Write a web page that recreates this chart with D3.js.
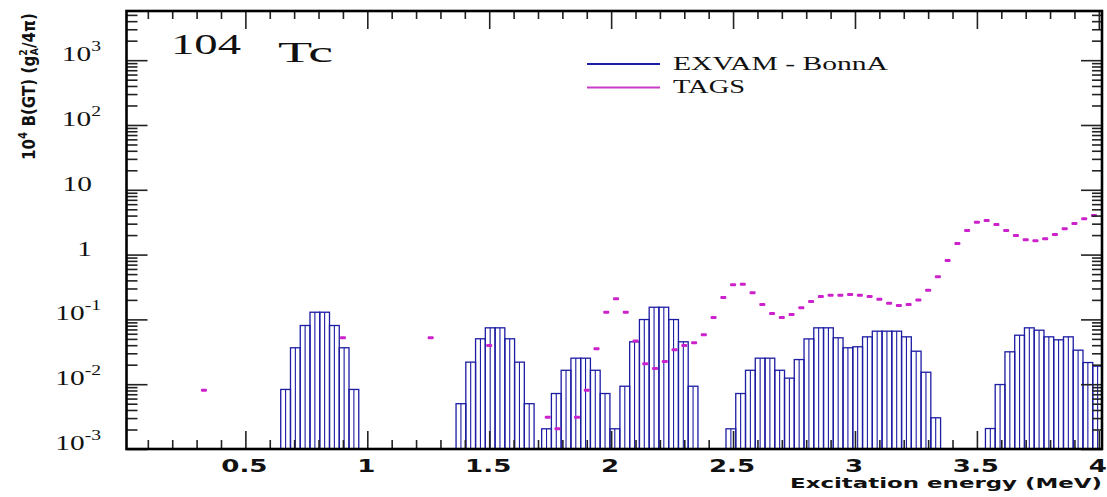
<!DOCTYPE html>
<html lang="en">
<head>
<meta charset="UTF-8">
<title>104Tc B(GT) - EXVAM vs TAGS</title>
<style>
  body { margin: 0; background: #fff; }
  svg { display: block; }
</style>
</head>
<body>
<svg width="1107" height="497"></svg>
<script src="https://d3js.org/d3.v7.min.js"></script>
<script>
// EXVAM - BonnA histogram: groups of 0.04 MeV bins (start energy of each group)
const binWidth = 0.04;
const exvamStart = [0.645, 1.364, 1.715, 2.036, 2.471, 3.535];
const exvamValues = [
  [0.0083, 0.0365, 0.0805, 0.129, 0.129, 0.0805, 0.0365, 0.0083],
  [0.0050, 0.0219, 0.0502, 0.0741, 0.0741, 0.0502, 0.0219, 0.0050],
  [0.00205, 0.00718, 0.0164, 0.0252, 0.0252, 0.0164, 0.00718, 0.00205],
  [0.0093, 0.0451, 0.0995, 0.154, 0.154, 0.0995, 0.0451, 0.0093],
  [0.00205, 0.00718, 0.0164, 0.0252, 0.0252, 0.0164, 0.0124, 0.0240, 0.0500, 0.0741, 0.0741,
   0.0520, 0.0365, 0.0378, 0.0538, 0.0658, 0.0658, 0.0658, 0.0538, 0.0323, 0.0153, 0.00303],
  [0.00207, 0.00988, 0.0316, 0.0570, 0.0741, 0.0681, 0.0538, 0.0484, 0.0538, 0.0335, 0.0216, 0.0190]
];

// TAGS points
const tagsEnergy = [0.33, 0.90, 1.26, 1.50, 1.74, 1.78, 1.86, 1.90, 1.94, 1.98,
  2.02, 2.06, 2.10, 2.14, 2.18, 2.22, 2.26, 2.30, 2.34, 2.38, 2.42,
  2.46, 2.50, 2.54, 2.58, 2.62, 2.66, 2.70, 2.74, 2.78, 2.82,
  2.86, 2.90, 2.94, 2.98, 3.02, 3.06, 3.10, 3.14, 3.18, 3.22,
  3.26, 3.30, 3.34, 3.38, 3.42, 3.46, 3.50, 3.54, 3.58, 3.62,
  3.66, 3.70, 3.74, 3.78, 3.82, 3.86, 3.90, 3.94, 3.98];
const tagsValue = [0.0081, 0.052, 0.052, 0.0395, 0.0031, 0.00205, 0.0031, 0.0081, 0.0352, 0.129,
  0.208, 0.129, 0.0464, 0.0207, 0.0175, 0.0224, 0.034, 0.0395, 0.0436, 0.0578, 0.107,
  0.218, 0.342, 0.350, 0.257, 0.170, 0.123, 0.107, 0.119, 0.151, 0.189,
  0.225, 0.236, 0.236, 0.242, 0.236, 0.225, 0.205, 0.178, 0.164, 0.170,
  0.200, 0.282, 0.454, 0.811, 1.48, 2.35, 3.16, 3.36, 2.92, 2.35,
  1.97, 1.69, 1.63, 1.75, 2.04, 2.50, 3.02, 3.57, 4.01];

const xTickValues = [0.5, 1, 1.5, 2, 2.5, 3, 3.5, 4];
const xTickLabels = ["0.5", "1", "1.5", "2", "2.5", "3", "3.5", "4"];
const yTickValues = [1e-3, 1e-2, 1e-1, 1, 10, 100, 1000];
const yTickBase = ["10", "10", "10", "1", "10", "10", "10"];
const yTickExp = ["-3", "-2", "-1", "", "", "2", "3"];

const seriesNames = ["EXVAM - BonnA", "TAGS"];
const seriesColors = ["#1c1ca4", "#c83cc8"];

const plotLeft = 126.5, plotRight = 1102, plotTop = 11, plotBottom = 449;

const svg = d3.select("svg");

const x = d3.scaleLinear().domain([0.0125, 4.013]).range([plotLeft, plotRight]);
const y = d3.scaleLog().domain([1e-3, 5740]).range([plotBottom, plotTop]);

svg.append("clipPath").attr("id", "plot")
  .append("rect")
  .attr("x", plotLeft).attr("y", plotTop)
  .attr("width", plotRight - plotLeft).attr("height", plotBottom - plotTop);

// histogram bins
const bins = [];
exvamStart.forEach((s, i) => {
  exvamValues[i].forEach((v, j) => {
    bins.push({ x0: s + j * binWidth, x1: s + (j + 1) * binWidth, v: v });
  });
});

const hist = svg.append("g").attr("clip-path", "url(#plot)");

hist.selectAll("rect")
  .data(bins)
  .enter().append("rect")
  .attr("x", d => x(d.x0))
  .attr("width", d => x(d.x1) - x(d.x0))
  .attr("y", d => y(d.v))
  .attr("height", d => plotBottom - y(d.v))
  .attr("fill", "none")
  .attr("stroke", seriesColors[0])
  .attr("stroke-width", 1.3);

hist.selectAll("line.mid")
  .data(bins)
  .enter().append("line")
  .attr("class", "mid")
  .attr("x1", d => x((d.x0 + d.x1) / 2))
  .attr("x2", d => x((d.x0 + d.x1) / 2))
  .attr("y1", plotBottom)
  .attr("y2", d => y(d.v))
  .attr("stroke", seriesColors[0])
  .attr("stroke-width", 1.1);

// TAGS markers
const tags = tagsEnergy.map((e, i) => ({ e: e, v: tagsValue[i] }));
svg.append("g").attr("clip-path", "url(#plot)")
  .selectAll("rect")
  .data(tags)
  .enter().append("rect")
  .attr("x", d => x(d.e) - 3)
  .attr("y", d => y(d.v) - 1.5)
  .attr("width", 6)
  .attr("height", 3)
  .attr("rx", 1)
  .attr("fill", "#cc22cc");

// ticks on all four sides, pointing inward
const xMinor = d3.range(1, 41).map(i => i / 10).filter(v => Math.round(v * 10) % 5 !== 0);
const yMinor = [];
for (let d = -3; d <= 3; d++) {
  for (let m = 2; m <= 9; m++) {
    const v = m * Math.pow(10, d);
    if (v < 5740) yMinor.push(v);
  }
}

function tickGroup(axis, transform) {
  const g = svg.append("g").attr("transform", transform).call(axis);
  g.select(".domain").remove();
  g.selectAll("text").remove();
  g.selectAll("line").attr("stroke", "#222").attr("stroke-width", 1.6);
}

tickGroup(d3.axisBottom(x).tickValues(xTickValues).tickSize(-18), `translate(0,${plotBottom})`);
tickGroup(d3.axisBottom(x).tickValues(xMinor).tickSize(-9), `translate(0,${plotBottom})`);
tickGroup(d3.axisTop(x).tickValues(xTickValues).tickSize(-18), `translate(0,${plotTop})`);
tickGroup(d3.axisTop(x).tickValues(xMinor).tickSize(-8), `translate(0,${plotTop})`);
tickGroup(d3.axisLeft(y).tickValues(yTickValues).tickSize(-21), `translate(${plotLeft},0)`);
tickGroup(d3.axisLeft(y).tickValues(yMinor).tickSize(-11), `translate(${plotLeft},0)`);
tickGroup(d3.axisRight(y).tickValues(yTickValues).tickSize(-21), `translate(${plotRight},0)`);
tickGroup(d3.axisRight(y).tickValues(yMinor).tickSize(-10), `translate(${plotRight},0)`);

// frame
svg.append("rect")
  .attr("x", plotLeft).attr("y", plotTop)
  .attr("width", plotRight - plotLeft).attr("height", plotBottom - plotTop)
  .attr("fill", "none")
  .attr("stroke", "#000")
  .attr("stroke-width", 2.6);

// x tick labels
svg.append("g").selectAll("text")
  .data(xTickValues)
  .enter().append("text")
  .attr("transform", d => `translate(${x(d) - 1},${472}) scale(1.45,1)`)
  .attr("text-anchor", "middle")
  .attr("font-family", "DejaVu Sans")
  .attr("font-weight", "bold")
  .attr("font-size", 18)
  .attr("fill", "#111")
  .text((d, i) => xTickLabels[i]);

svg.append("text")
  .attr("x", 790).attr("y", 488)
  .attr("textLength", 312)
  .attr("lengthAdjust", "spacingAndGlyphs")
  .attr("font-family", "DejaVu Sans")
  .attr("font-weight", "bold")
  .attr("font-size", 14)
  .attr("fill", "#111")
  .text("Excitation energy (MeV)");

// y tick labels
const yLab = svg.append("g").selectAll("text")
  .data(yTickValues)
  .enter().append("text")
  .attr("transform", (d, i) => `translate(${yTickExp[i] ? 101 : 92},${y(d) + 1}) scale(1.4,1)`)
  .attr("text-anchor", "end")
  .attr("font-family", "Liberation Serif")
  .attr("font-size", 21)
  .attr("fill", "#111");
yLab.append("tspan").text((d, i) => yTickBase[i]);
yLab.append("tspan")
  .attr("font-size", 14)
  .attr("dy", -10)
  .text((d, i) => yTickExp[i]);

// y axis title
const yTitle = svg.append("text")
  .attr("transform", "translate(35,160) rotate(-90)")
  .attr("textLength", 147)
  .attr("lengthAdjust", "spacingAndGlyphs")
  .attr("font-family", "DejaVu Sans")
  .attr("font-weight", "bold")
  .attr("font-size", 18)
  .attr("fill", "#111");
yTitle.append("tspan").text("10");
yTitle.append("tspan").attr("font-size", 12).attr("dy", -8).text("4");
yTitle.append("tspan").attr("dy", 8).text(" B(GT) (g");
yTitle.append("tspan").attr("font-size", 11).attr("dy", -8).text("2");
yTitle.append("tspan").attr("font-size", 11).attr("dx", -7).attr("dy", 11).text("A");
yTitle.append("tspan").attr("dy", -3).text("/4\u03c0)");

// nucleus label
svg.append("text")
  .attr("x", 171).attr("y", 54)
  .attr("textLength", 70)
  .attr("lengthAdjust", "spacingAndGlyphs")
  .attr("font-family", "Liberation Serif")
  .attr("font-size", 30)
  .attr("fill", "#111")
  .text("104");
svg.append("text")
  .attr("x", 278).attr("y", 62)
  .attr("textLength", 55)
  .attr("lengthAdjust", "spacingAndGlyphs")
  .attr("font-family", "Liberation Serif")
  .attr("font-size", 30)
  .attr("fill", "#111")
  .text("Tc");

// legend
const legend = svg.append("g").selectAll("g")
  .data(seriesNames)
  .enter().append("g")
  .attr("transform", (d, i) => `translate(0,${64 + i * 23.5})`);
legend.append("line")
  .attr("x1", 587).attr("x2", 660)
  .attr("stroke", (d, i) => seriesColors[i])
  .attr("stroke-width", 2);
legend.append("text")
  .attr("x", 673).attr("y", 5.5)
  .attr("textLength", (d, i) => i === 0 ? 215 : 72)
  .attr("lengthAdjust", "spacingAndGlyphs")
  .attr("font-family", "Liberation Serif")
  .attr("font-size", 18.5)
  .attr("fill", "#111")
  .text(d => d);
</script>
</body>
</html>
